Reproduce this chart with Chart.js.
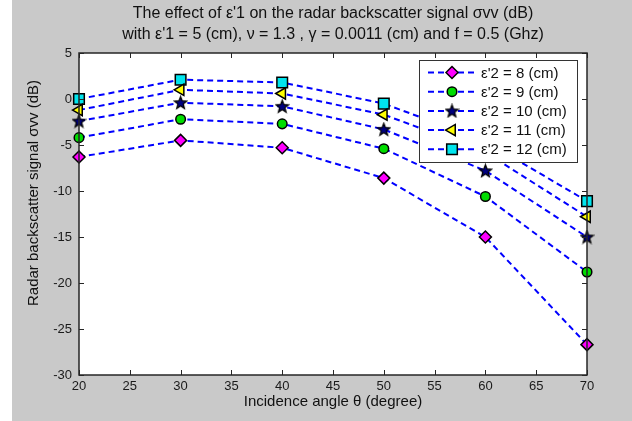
<!DOCTYPE html>
<html>
<head>
<meta charset="utf-8">
<script src="https://cdn.jsdelivr.net/npm/chart.js@4"></script>
<style>
  html, body { margin: 0; padding: 0; background: #fff; }
  #wrap { width: 632px; height: 421px; }
</style>
</head>
<body>
<div id="wrap"><canvas id="chart" width="632" height="421"></canvas></div>
<script>
// values
var angles = [20, 30, 40, 50, 60, 70];
var eps8  = [-6.3, -4.5, -5.3, -8.6, -15.0, -26.7];
var eps9  = [-4.2, -2.2, -2.7, -5.4, -10.6, -18.8];
var eps10 = [-2.4, -0.4, -0.8, -3.3, -7.8, -15.0];
var eps11 = [-1.2, 1.0, 0.6, -1.7, -5.8, -12.8];
var eps12 = [0.0, 2.1, 1.8, -0.5, -4.6, -11.1];
var seriesNames = ["ε'2 = 8 (cm)", "ε'2 = 9 (cm)", "ε'2 = 10 (cm)", "ε'2 = 11 (cm)", "ε'2 = 12 (cm)"];
var xTicks = [20, 25, 30, 35, 40, 45, 50, 55, 60, 65, 70];
var yTicks = [5, 0, -5, -10, -15, -20, -25, -30];

var FONT = "'Liberation Sans', Arial, sans-serif";

// filled five point star used as a marker
function starImage() {
    var c = document.createElement('canvas');
    c.width = 15; c.height = 15;
    var g = c.getContext('2d');
    g.beginPath();
    for (var k = 0; k < 10; k++) {
        var r = k % 2 === 0 ? 6.5 : 2.8;
        var a = -Math.PI / 2 + k * Math.PI / 5;
        var px = 7.5 + r * Math.cos(a), py = 8 + r * Math.sin(a);
        if (k === 0) g.moveTo(px, py); else g.lineTo(px, py);
    }
    g.closePath();
    g.fillStyle = '#000080';
    g.fill();
    g.lineWidth = 1.3;
    g.strokeStyle = '#000';
    g.stroke();
    return c;
}
var star = starImage();

function pts(vals) {
    return angles.map(function(a, i) { return { x: a, y: vals[i] }; });
}

function series(label, vals, style, fill, rot, radius) {
    return {
        label: label,
        data: pts(vals),
        borderColor: '#0000ff',
        borderWidth: 2,
        borderDash: [6, 4],
        pointStyle: style,
        pointRotation: rot || 0,
        pointRadius: radius || 5,
        pointBackgroundColor: fill,
        pointBorderColor: '#000',
        pointBorderWidth: 1.5,
        showLine: true,
        tension: 0,
        clip: false
    };
}

var datasets = [
    series(seriesNames[0], eps8, 'rectRot', '#ff00ff', 0, 6),
    series(seriesNames[1], eps9, 'circle', '#00dd00', 0, 4.8),
    series(seriesNames[2], eps10, star, '#000080'),
    series(seriesNames[3], eps11, 'triangle', '#ffff00', -90, 6.5),
    series(seriesNames[4], eps12, 'rect', '#00e5ee', 0, 7.5)
];

var decor = {
    id: 'decor',
    beforeDraw: function(chart) {
        var ctx = chart.ctx;
        ctx.save();
        ctx.fillStyle = '#fff';
        ctx.fillRect(0, 0, chart.width, chart.height);
        ctx.fillStyle = '#c9c9c9';
        ctx.fillRect(12, 0, chart.width - 12, chart.height);
        var a = chart.chartArea;
        ctx.fillStyle = '#fff';
        ctx.fillRect(a.left, a.top, a.right - a.left, a.bottom - a.top);
        ctx.restore();
    },
    afterDatasetsDraw: function(chart) {
        var ctx = chart.ctx;
        var a = chart.chartArea;
        var xs = chart.scales.x, ys = chart.scales.y;
        ctx.save();
        // inward ticks
        ctx.strokeStyle = '#262626';
        ctx.lineWidth = 1;
        ctx.beginPath();
        xTicks.forEach(function(t) {
            var px = Math.round(xs.getPixelForValue(t)) + 0.5;
            ctx.moveTo(px, a.bottom); ctx.lineTo(px, a.bottom - 5);
            ctx.moveTo(px, a.top); ctx.lineTo(px, a.top + 5);
        });
        yTicks.forEach(function(t) {
            var py = Math.round(ys.getPixelForValue(t)) + 0.5;
            ctx.moveTo(a.left, py); ctx.lineTo(a.left + 5, py);
            ctx.moveTo(a.right, py); ctx.lineTo(a.right - 5, py);
        });
        ctx.stroke();
        // box
        ctx.lineWidth = 1.5;
        ctx.strokeRect(a.left, a.top, a.right - a.left, a.bottom - a.top);

        // legend inside the plot
        var lx = 419, ly = 60, lw = 158, lh = 102;
        ctx.fillStyle = '#fff';
        ctx.fillRect(lx, ly, lw, lh);
        ctx.lineWidth = 1;
        ctx.strokeStyle = '#333';
        ctx.strokeRect(lx + 0.5, ly + 0.5, lw, lh);
        chart.data.datasets.forEach(function(ds, i) {
            var y = 72.5 + i * 19.2;
            ctx.save();
            ctx.strokeStyle = ds.borderColor;
            ctx.lineWidth = 2;
            ctx.setLineDash(ds.borderDash);
            ctx.beginPath();
            ctx.moveTo(428, y); ctx.lineTo(474, y);
            ctx.stroke();
            ctx.restore();
            ctx.save();
            ctx.fillStyle = ds.pointBackgroundColor;
            ctx.strokeStyle = ds.pointBorderColor;
            ctx.lineWidth = ds.pointBorderWidth;
            Chart.helpers.drawPoint(ctx, {
                pointStyle: ds.pointStyle,
                radius: ds.pointRadius,
                rotation: ds.pointRotation,
                borderWidth: ds.pointBorderWidth
            }, 452, y);
            ctx.restore();
            ctx.fillStyle = '#111';
            ctx.font = '15px ' + FONT;
            ctx.textAlign = 'left';
            ctx.textBaseline = 'middle';
            ctx.fillText(ds.label, 481, y + 1);
        });

        // titles
        var cx = (a.left + a.right) / 2;
        ctx.fillStyle = '#111';
        ctx.textAlign = 'center';
        ctx.textBaseline = 'middle';
        ctx.font = '16px ' + FONT;
        ctx.fillText("The effect of ε'1 on the radar backscatter signal σvv (dB)", cx, 14);
        ctx.fillText("with ε'1 = 5 (cm), ν = 1.3 , γ = 0.0011 (cm) and f = 0.5 (Ghz)", cx, 35);
        ctx.font = '15px ' + FONT;
        ctx.fillText('Incidence angle θ (degree)', cx, 402);
        ctx.translate(34, 193);
        ctx.rotate(-Math.PI / 2);
        ctx.fillText('Radar backscatter signal σvv (dB)', 0, 0);
        ctx.restore();
    }
};

new Chart(document.getElementById('chart'), {
    type: 'scatter',
    data: { datasets: datasets },
    plugins: [decor],
    options: {
        responsive: false,
        animation: false,
        layout: { padding: { top: 53, right: 45, left: 0, bottom: 0 } },
        plugins: { legend: { display: false }, tooltip: { enabled: false }, title: { display: false } },
        scales: {
            x: {
                type: 'linear', min: 20, max: 70,
                afterFit: function(s) { s.height = 46; },
                afterBuildTicks: function(s) { s.ticks = xTicks.map(function(v) { return { value: v }; }); },
                grid: { display: false, drawTicks: false },
                border: { display: false },
                ticks: { color: '#1a1a1a', font: { family: FONT, size: 13 }, padding: 4, maxRotation: 0 }
            },
            y: {
                type: 'linear', min: -30, max: 5,
                afterFit: function(s) { s.width = 79; },
                afterBuildTicks: function(s) { s.ticks = yTicks.map(function(v) { return { value: v }; }); },
                grid: { display: false, drawTicks: false },
                border: { display: false },
                ticks: { color: '#1a1a1a', font: { family: FONT, size: 13 }, padding: 7 }
            }
        }
    }
});
</script>
</body>
</html>
